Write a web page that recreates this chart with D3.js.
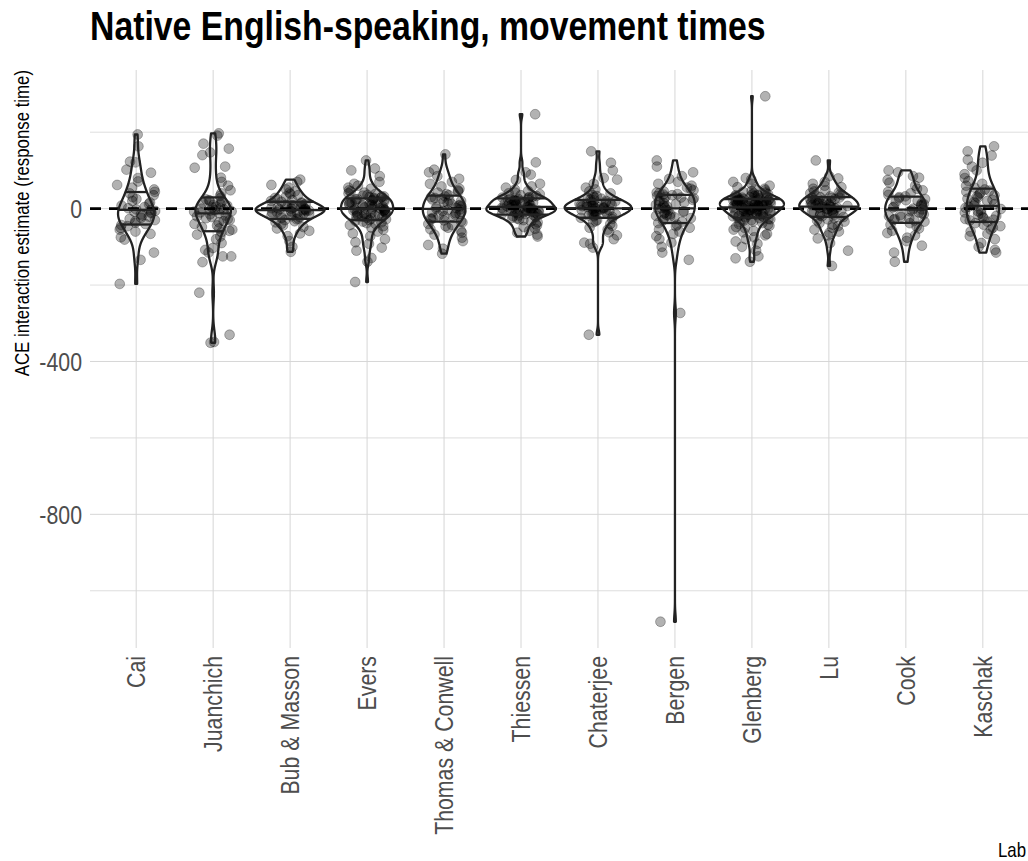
<!DOCTYPE html>
<html><head><meta charset="utf-8">
<script src="https://cdn.jsdelivr.net/npm/d3@7"></script>
<style>body{margin:0;background:#fff} svg{display:block}</style>
</head><body>
<svg id="chart" width="1028" height="861"></svg>
<script>
// ---------------- data ----------------
const labs = ["Cai","Juanchich","Bub & Masson","Evers","Thomas & Conwell","Thiessen","Chaterjee","Bergen","Glenberg","Lu","Cook","Kaschak"];

const caiValues = [194,163,123,121,102,94,80,71,62,55,50,44,
  40,35,30,25,20,16,12,8,4,1,-2,-4,
  -6,-8,-10,-12,-15,-18,-21,-24,-27,-30,-33,-37,
  -40,-43,-46,-50,-55,-60,-66,-75,-81,-115,-134,-197];
const juanchichValues = [197,191,170,157,147,140,110,107,81,70,60,48,40,33,28,24,
  22,20,18,15,12,10,8,5,3,1,0,-2,-4,-5,-7,-8,
  -10,-12,-15,-18,-20,-22,-25,-28,-30,-33,-36,-40,-44,-48,-52,-55,
  -58,-62,-68,-73,-80,-90,-103,-108,-115,-125,-125,-140,-220,-330,-349,-351];
const bubMassonValues = [76,70,62,55,50,45,42,38,35,32,28,25,22,20,18,
  16,14,12,10,9,7,6,5,3,2,1,0,-1,-2,-3,
  -4,-5,-6,-7,-8,-9,-10,-11,-12,-14,-16,-18,-20,-22,-24,
  -26,-28,-30,-33,-36,-40,-44,-48,-52,-58,-65,-72,-85,-100,-113];
const eversValues = [126,105,100,85,70,65,60,55,52,48,45,42,40,38,36,34,32,31,30,29,28,26,
  25,24,23,22,21,20,19,18,16,15,14,12,11,10,9,8,6,5,4,3,1,0,
  -1,-2,-3,-4,-5,-6,-7,-8,-10,-11,-12,-13,-14,-15,-16,-17,-18,-20,-21,-22,-24,-26,
  -28,-30,-32,-34,-36,-38,-40,-43,-46,-50,-55,-60,-65,-72,-80,-88,-92,-102,-110,-129,-139,-192];
const thomasConwellValues = [142,102,95,85,78,70,65,58,52,48,45,42,38,35,32,
  30,28,26,24,22,20,17,15,12,10,8,6,4,2,0,
  -2,-4,-6,-8,-10,-12,-14,-16,-18,-20,-22,-24,-26,-28,-31,
  -33,-36,-40,-43,-46,-50,-54,-58,-63,-68,-76,-85,-95,-105,-118];
const thiessenValues = [247,121,95,89,75,65,58,55,50,46,42,40,38,35,33,31,30,29,28,26,
  25,24,23,22,21,20,19,18,17,16,15,14,12,11,10,9,7,6,5,3,
  2,1,1,0,0,-1,-2,-2,-3,-4,-5,-6,-7,-8,-9,-10,-10,-11,-12,-13,
  -14,-15,-17,-18,-20,-22,-24,-26,-28,-30,-33,-36,-40,-44,-48,-53,-58,-63,-68,-73];
const chaterjeeValues = [150,120,100,80,76,65,55,50,45,40,36,33,30,28,26,24,22,
  20,19,18,16,15,13,12,11,10,9,8,7,6,5,4,3,2,
  1,0,-1,-2,-4,-5,-6,-7,-8,-10,-11,-12,-13,-15,-16,-18,-20,
  -22,-24,-27,-30,-33,-36,-40,-45,-50,-55,-62,-70,-80,-89,-92,-102,-330];
const bergenValues = [126,110,95,85,78,70,65,60,55,52,48,45,42,40,38,37,
  35,33,31,29,27,25,23,20,18,16,14,12,10,8,6,3,
  1,-1,-3,-5,-7,-9,-11,-13,-15,-17,-19,-21,-23,-25,-28,-31,
  -34,-38,-42,-46,-50,-55,-60,-66,-72,-80,-89,-100,-115,-134,-273,-1081];
const glenbergValues = [294,80,76,70,65,60,56,52,50,48,46,44,42,40,38,37,36,35,34,33,32,31,30,29,28,27,26,25,25,24,
  23,23,22,22,21,21,20,20,19,18,18,17,16,16,15,14,14,13,12,12,11,10,10,9,8,8,7,6,6,5,
  4,3,3,2,1,0,0,-1,-2,-3,-3,-4,-5,-6,-7,-8,-8,-9,-10,-11,-12,-13,-14,-15,-16,-17,-18,-19,-20,-21,
  -22,-23,-24,-25,-27,-28,-30,-32,-34,-36,-38,-40,-42,-45,-48,-51,-55,-58,-62,-66,-70,-75,-80,-86,-92,-100,-110,-125,-130,-139];
const luValues = [126,85,79,70,65,60,56,52,48,45,42,40,38,36,34,32,30,29,
  28,27,25,24,22,21,20,18,17,16,14,13,12,11,9,8,7,6,
  5,4,3,2,1,0,-1,-2,-4,-5,-7,-8,-10,-11,-13,-14,-16,-18,
  -20,-22,-25,-28,-31,-34,-38,-42,-46,-50,-55,-60,-63,-70,-78,-90,-110,-150];
const cookValues = [100,95,85,81,75,68,60,52,48,44,40,36,32,
  30,27,25,22,20,17,14,12,10,7,5,3,0,
  -2,-5,-7,-10,-12,-15,-17,-20,-22,-25,-27,-29,-31,
  -34,-38,-42,-47,-52,-58,-64,-70,-76,-85,-97,-115,-139];
const kaschakValues = [163,150,139,128,120,110,100,90,80,72,65,60,55,50,
  47,44,41,38,35,32,29,26,23,20,17,14,11,8,
  5,2,-1,-4,-7,-10,-13,-16,-19,-22,-25,-27,-29,-31,
  -34,-38,-42,-46,-50,-55,-60,-66,-72,-80,-90,-100,-108,-115];

const labValues = [caiValues, juanchichValues, bubMassonValues, eversValues, thomasConwellValues,
  thiessenValues, chaterjeeValues, bergenValues, glenbergValues, luValues, cookValues, kaschakValues];

const yMajorTicks = [0, -400, -800];
const yMinorTicks = [200, -200, -600, -1000];
const drawQuantiles = [0.25, 0.5, 0.75];
const titleText = "Native English-speaking, movement times";
const yTitleText = "ACE interaction estimate (response time)";
const xTitleText = "Lab";

// ---------------- fonts ----------------
function fontAvailable(name){
  const c = document.createElement('canvas').getContext('2d');
  const t = "Thomas & Conwell movement times 0123";
  c.font = "40px monospace"; const a = c.measureText(t).width;
  c.font = `40px "${name}", monospace`; const b = c.measureText(t).width;
  return Math.abs(a-b) > 0.5;
}
let FONT = "'Liberation Sans Narrow'", SX = 1;
if (!fontAvailable("Liberation Sans Narrow")) { FONT = "'Liberation Sans', Arial, sans-serif"; SX = 0.82; }

// ---------------- layout ----------------
const panel = {left: 90, right: 1029, top: 70, bottom: 648};
const svg = d3.select("#chart");

const allVals = labValues.flat();
const [vmin, vmax] = d3.extent(allVals);
const pad = (vmax - vmin) * 0.05;
const y = d3.scaleLinear().domain([vmin - pad, vmax + pad]).range([panel.bottom, panel.top]);
const x = d3.scaleLinear().domain([0.4, labs.length + 0.6]).range([panel.left, panel.right]);
const unit = x(2) - x(1);

function addText(parent, tx, ty, rot, str, o){
  const g = parent.append("g").attr("transform", `translate(${tx},${ty}) rotate(${rot}) scale(${SX},1)`);
  return g.append("text").text(str)
    .attr("font-family", FONT).attr("font-size", o.size).attr("font-weight", o.weight || "normal")
    .attr("fill", o.fill || "#000").attr("text-anchor", o.anchor || "start")
    .attr("dominant-baseline", o.baseline || "auto");
}

// grid
const grid = svg.append("g").attr("stroke", "#d6d6d6").attr("stroke-width", 1);
grid.selectAll("line.minor").data(yMinorTicks).join("line")
  .attr("x1", panel.left).attr("x2", panel.right)
  .attr("y1", d => y(d)).attr("y2", d => y(d)).attr("stroke-width", 0.8);
grid.selectAll("line.major").data(yMajorTicks).join("line")
  .attr("x1", panel.left).attr("x2", panel.right)
  .attr("y1", d => y(d)).attr("y2", d => y(d));
grid.selectAll("line.vert").data(labs).join("line")
  .attr("x1", (d,i) => x(i+1)).attr("x2", (d,i) => x(i+1))
  .attr("y1", panel.top).attr("y2", panel.bottom);

// zero line
svg.append("line").attr("x1", panel.left).attr("x2", panel.right)
  .attr("y1", y(0)).attr("y2", y(0))
  .attr("stroke", "#000").attr("stroke-width", 2.6).attr("stroke-dasharray", "11,8");

// jittered points
const rng = d3.randomLcg(0.3141);
const pts = [];
labValues.forEach((vals, i) => vals.forEach(v => pts.push({i, v, dx: (rng()*2 - 1) * 0.25})));
svg.append("g").selectAll("circle").data(pts).join("circle")
  .attr("cx", d => x(d.i + 1 + d.dx)).attr("cy", d => y(d.v)).attr("r", 4.9)
  .attr("fill", "#000").attr("fill-opacity", 0.3)
  .attr("stroke", "#000").attr("stroke-opacity", 0.3).attr("stroke-width", 0.9);

// violins (gaussian KDE, nrd0 bandwidth, trimmed, scale = "area")
function nrd0(vals){
  const s = vals.slice().sort((a,b)=>a-b);
  const sd = d3.deviation(s);
  const iqr = d3.quantile(s, 0.75) - d3.quantile(s, 0.25);
  let lo = Math.min(sd, iqr/1.34);
  if (!lo) lo = sd || Math.abs(s[0]) || 1;
  return 0.9 * lo * Math.pow(s.length, -0.2);
}
const dens = labValues.map(vals => {
  const bw = nrd0(vals), n = vals.length;
  const [lo, hi] = d3.extent(vals);
  const g512 = d3.range(512).map(k => lo + (hi - lo) * k / 511);
  return g512.map(g => {
    let s = 0;
    for (const v of vals) { const z = (g - v) / bw; s += Math.exp(-0.5*z*z); }
    return {y: g, d: s / (n * bw * Math.sqrt(2*Math.PI))};
  });
});
const maxD = d3.max(dens, arr => d3.max(arr, p => p.d));
const halfW = d => 0.45 * unit * d / maxD;

const vg = svg.append("g").attr("fill", "none").attr("stroke", "#222").attr("stroke-width", 2.3)
  .attr("stroke-linejoin", "round");
dens.forEach((arr, i) => {
  const cx = x(i + 1);
  const area = d3.area().y(p => y(p.y)).x0(p => cx - halfW(p.d)).x1(p => cx + halfW(p.d));
  vg.append("path").attr("d", area(arr));
  const tot = d3.sum(arr, p => p.d);
  let acc = 0; const cdf = arr.map(p => (acc += p.d) / tot);
  drawQuantiles.forEach(q => {
    let k = cdf.findIndex(c => c >= q);
    if (k <= 0) k = 1;
    const t = (q - cdf[k-1]) / (cdf[k] - cdf[k-1]);
    const yy = arr[k-1].y + t * (arr[k].y - arr[k-1].y);
    const dd = arr[k-1].d + t * (arr[k].d - arr[k-1].d);
    vg.append("line").attr("x1", cx - halfW(dd)).attr("x2", cx + halfW(dd))
      .attr("y1", y(yy)).attr("y2", y(yy));
  });
});

// axis labels
yMajorTicks.forEach(t => addText(svg, 82, y(t), 0, String(t),
  {size: 26, fill: "#4d4d4d", anchor: "end", baseline: "central"}));
labs.forEach((lab, i) => addText(svg, x(i+1), 656, -90, lab,
  {size: 26, fill: "#4d4d4d", anchor: "end", baseline: "central"}));

// titles
addText(svg, 90, 40, 0, titleText, {size: 41.2, weight: "bold"});
addText(svg, 29, panel.top, -90, yTitleText, {size: 20.5, anchor: "end"});
addText(svg, 1026, 857, 0, xTitleText, {size: 20.5, anchor: "end"});
</script>
</body></html>
